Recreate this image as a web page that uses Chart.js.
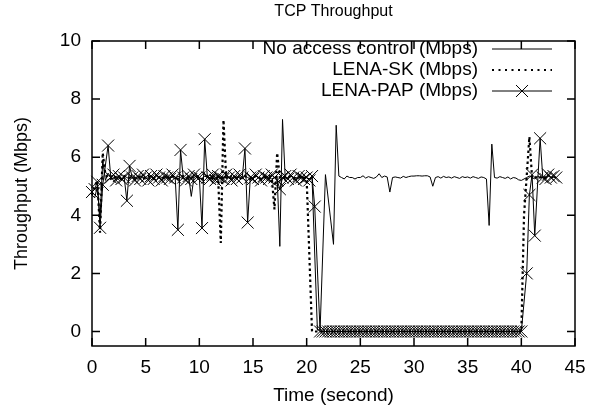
<!DOCTYPE html>
<html>
<head>
<meta charset="utf-8">
<title>TCP Throughput</title>
<script src="https://cdn.jsdelivr.net/npm/chart.js@4/dist/chart.umd.min.js"></script>
<style>
  html, body { margin: 0; padding: 0; background: #fff; }
</style>
</head>
<body>
<canvas id="tcpChart" width="602" height="412"></canvas>
<script>
// time axis (seconds), one sample every 0.25 s
const times = [
  0, 0.25, 0.5, 0.75, 1, 1.25, 1.5, 1.75, 2, 2.25, 2.5, 2.75, 3, 3.25, 3.5, 3.75, 4, 4.25, 4.5, 4.75,
  5, 5.25, 5.5, 5.75, 6, 6.25, 6.5, 6.75, 7, 7.25, 7.5, 7.75, 8, 8.25, 8.5, 8.75, 9, 9.25, 9.5, 9.75,
  10, 10.25, 10.5, 10.75, 11, 11.25, 11.5, 11.75, 12, 12.25, 12.5, 12.75, 13, 13.25, 13.5, 13.75, 14, 14.25, 14.5, 14.75,
  15, 15.25, 15.5, 15.75, 16, 16.25, 16.5, 16.75, 17, 17.25, 17.5, 17.75, 18, 18.25, 18.5, 18.75, 19, 19.25, 19.5, 19.75,
  20, 20.25, 20.5, 20.75, 21, 21.25, 21.5, 21.75, 22, 22.25, 22.5, 22.75, 23, 23.25, 23.5, 23.75, 24, 24.25, 24.5, 24.75,
  25, 25.25, 25.5, 25.75, 26, 26.25, 26.5, 26.75, 27, 27.25, 27.5, 27.75, 28, 28.25, 28.5, 28.75, 29, 29.25, 29.5, 29.75,
  30, 30.25, 30.5, 30.75, 31, 31.25, 31.5, 31.75, 32, 32.25, 32.5, 32.75, 33, 33.25, 33.5, 33.75, 34, 34.25, 34.5, 34.75,
  35, 35.25, 35.5, 35.75, 36, 36.25, 36.5, 36.75, 37, 37.25, 37.5, 37.75, 38, 38.25, 38.5, 38.75, 39, 39.25, 39.5, 39.75,
  40, 40.25, 40.5, 40.75, 41, 41.25, 41.5, 41.75, 42, 42.25, 42.5, 42.75, 43, 43.25
];

// No access control (Mbps)
const noAccess = [
  4.7, 4.6, 5.0, 3.9, 5.9, 5.2, 5.45, 5.3, 5.25, 5.35, 5.3, 5.2, 5.35, 5.3, 5.25, 5.4, 5.3, 5.25, 5.35, 5.3,
  5.25, 5.3, 5.35, 5.3, 5.2, 5.35, 5.3, 5.25, 5.4, 5.3, 5.3, 5.25, 5.35, 5.3, 5.25, 5.3, 5.35, 4.65, 5.3, 5.35,
  5.3, 5.25, 5.35, 5.3, 5.3, 5.25, 5.4, 5.3, 5.25, 5.3, 5.35, 5.3, 5.25, 5.35, 5.3, 5.3, 5.25, 5.35, 5.3, 5.25,
  5.3, 5.35, 5.3, 5.25, 5.3, 5.35, 5.3, 5.25, 5.3, 5.35, 2.93, 7.3, 5.3, 5.25, 5.35, 5.3, 5.3, 5.25, 5.35, 5.3,
  5.3, 5.25, 5.3, null, 0.05, 0.05, null, 5.4, null, null, 3.0, 7.1, 5.35, 5.3, 5.25, 5.35, 5.3, 5.3, 5.25, 5.3,
  5.3, 5.36, 5.28, 5.33, 5.3, 5.27, 5.32, 5.43, 5.3, 5.35, 5.32, 4.8, 5.3, 5.32, 5.3, 5.28, 5.34, 5.3, 5.33, 5.35,
  5.35, 5.36, 5.36, 5.35, 5.36, 5.36, 5.32, 5.0, 5.3, 5.33, 5.28, 5.34, 5.3, 5.32, 5.28, 5.33, 5.3, 5.27, 5.33, 5.3,
  5.32, 5.28, 5.33, 5.3, 5.27, 5.32, 5.3, 5.25, 3.65, 6.45, 5.3, 5.28, 5.33, 5.3, 5.27, 5.32, 5.25, 5.3, 5.28, 5.22,
  5.2, 5.25, 5.3, 5.35, 5.3, 5.25, 5.35, 5.3, 5.3, 5.25, 5.35, 5.3, 5.3, 5.3
];

// LENA-SK (Mbps)
const lenaSk = [
  4.7, 5.0, 5.2, 3.4, 6.15, 5.4, 5.3, 5.25, 5.35, 5.3, 5.3, 5.25, 5.35, 5.3, 5.3, 5.25, 5.3, 5.35, 5.3, 5.25,
  5.3, 5.35, 5.3, 5.25, 5.3, 5.3, 5.35, 5.25, 5.3, 5.3, 5.35, 5.3, 5.25, 5.3, 5.35, 5.3, 5.25, 5.3, 5.3, 5.35,
  5.3, 5.25, 5.3, 5.35, 5.3, 5.25, 5.3, 5.3, 3.05, 7.28, 5.3, 5.25, 5.35, 5.3, 5.3, 5.25, 5.3, 5.35, 5.3, 5.25,
  5.3, 5.35, 5.3, 5.25, 5.3, 5.3, 5.35, 5.3, 4.2, 6.15, 5.3, 5.25, 5.3, 5.35, 5.3, 5.25, 5.3, 5.3, 5.35, 5.3,
  5.25, null, 0, 0, 0, 0, 0, 0, 0, 0, 0, 0, 0, 0, 0, 0, 0, 0, 0, 0,
  0, 0, 0, 0, 0, 0, 0, 0, 0, 0, 0, 0, 0, 0, 0, 0, 0, 0, 0, 0,
  0, 0, 0, 0, 0, 0, 0, 0, 0, 0, 0, 0, 0, 0, 0, 0, 0, 0, 0, 0,
  0, 0, 0, 0, 0, 0, 0, 0, 0, 0, 0, 0, 0, 0, 0, 0, 0, 0, 0, 0,
  0, 4.0, null, 6.7, 5.3, 5.35, 5.25, 5.3, 5.35, 5.3, 5.3, null, null, null
];

// LENA-PAP (Mbps)
const lenaPap = [
  4.8, 4.9, 5.15, 3.57, 5.05, null, 6.4, 5.3, 5.4, 5.2, 5.35, 5.25, 5.3, 4.5, 5.7, 5.3, 5.2, 5.35, 5.25, 5.4,
  5.3, 5.2, 5.35, 5.25, 5.4, 5.3, 5.2, 5.35, 5.3, 5.25, 5.4, 5.3, 3.5, 6.25, 5.3, 5.2, 5.35, 5.25, 5.4, 5.3,
  5.3, 3.56, 6.62, 5.3, 5.25, 5.4, 5.2, 5.35, 5.3, 5.25, 5.4, 5.3, 5.2, 5.35, 5.25, 5.4, 5.3, 6.3, 3.75, 5.3,
  5.25, 5.4, 5.3, 5.2, 5.35, 5.3, 5.25, 5.4, 5.3, 5.2, 4.9, 5.3, 5.35, 5.25, 5.4, 5.3, 5.2, 5.35, 5.3, 5.25,
  5.3, 5.2, 5.35, 4.3, null, 0, 0, 0, 0, 0, 0, 0, 0, 0, 0, 0, 0, 0, 0, 0,
  0, 0, 0, 0, 0, 0, 0, 0, 0, 0, 0, 0, 0, 0, 0, 0, 0, 0, 0, 0,
  0, 0, 0, 0, 0, 0, 0, 0, 0, 0, 0, 0, 0, 0, 0, 0, 0, 0, 0, 0,
  0, 0, 0, 0, 0, 0, 0, 0, 0, 0, 0, 0, 0, 0, 0, 0, 0, 0, 0, 0,
  0, null, 2.0, 4.7, 5.4, 3.3, null, 6.65, 5.3, 5.25, 5.4, 5.3, 5.35, 5.3
];

const chartTitle = 'TCP Throughput';
const seriesLabels = ['No access control (Mbps)', 'LENA-SK (Mbps)', 'LENA-PAP (Mbps)'];
const xTicks = [0, 5, 10, 15, 20, 25, 30, 35, 40, 45];
const yTicks = [0, 2, 4, 6, 8, 10];

const FONT = '"Liberation Sans", Arial, Helvetica, sans-serif';

const toPoints = (vals) => times.map((t, i) => ({ x: t, y: vals[i] }));

// gnuplot style frame: box round the plot, ticks pointing inwards on all four sides
const framePlugin = {
  id: 'frame',
  afterDraw(chart) {
    const { ctx, chartArea: a } = chart;
    const xs = chart.scales.x;
    const ys = chart.scales.y;
    const len = 8;
    ctx.save();
    ctx.strokeStyle = '#000';
    ctx.lineWidth = 1.5;
    ctx.setLineDash([]);
    ctx.strokeRect(a.left, a.top, a.right - a.left, a.bottom - a.top);
    ctx.beginPath();
    xTicks.forEach((v) => {
      const px = xs.getPixelForValue(v);
      ctx.moveTo(px, a.bottom); ctx.lineTo(px, a.bottom - len);
      ctx.moveTo(px, a.top); ctx.lineTo(px, a.top + len);
    });
    yTicks.forEach((v) => {
      const py = ys.getPixelForValue(v);
      ctx.moveTo(a.left, py); ctx.lineTo(a.left + len, py);
      ctx.moveTo(a.right, py); ctx.lineTo(a.right - len, py);
    });
    ctx.stroke();

    // title, centred over the plot like gnuplot does
    ctx.fillStyle = '#000';
    ctx.font = '16px ' + FONT;
    ctx.textAlign = 'center';
    ctx.textBaseline = 'middle';
    ctx.fillText(chartTitle, (a.left + a.right) / 2, 12);
    ctx.restore();
  },
};

// key in the top right corner, text first and sample after it
const keyPlugin = {
  id: 'key',
  afterDraw(chart) {
    const { ctx, chartArea: a } = chart;
    const textRight = a.right - 97;
    const x0 = a.right - 83;
    const x1 = a.right - 23;
    ctx.save();
    ctx.font = '19px ' + FONT;
    ctx.textAlign = 'right';
    ctx.textBaseline = 'middle';
    chart.data.datasets.forEach((ds, i) => {
      const y = a.top + 8 + i * 21;
      ctx.fillStyle = '#000';
      ctx.fillText(ds.label, textRight, y);
      ctx.strokeStyle = '#000';
      ctx.lineWidth = ds.borderDash ? 2 : ds.borderWidth;
      ctx.setLineDash(ds.borderDash ? [2, 4.5] : []);
      ctx.beginPath();
      ctx.moveTo(x0, y); ctx.lineTo(x1, y);
      ctx.stroke();
      if (ds.pointRadius > 0) {
        const h = ds.pointRadius * Math.SQRT1_2;
        const cx = (x0 + x1) / 2;
        ctx.setLineDash([]);
        ctx.lineWidth = ds.pointBorderWidth;
        ctx.beginPath();
        ctx.moveTo(cx - h, y - h); ctx.lineTo(cx + h, y + h);
        ctx.moveTo(cx - h, y + h); ctx.lineTo(cx + h, y - h);
        ctx.stroke();
      }
    });
    ctx.restore();
  },
};

new Chart(document.getElementById('tcpChart'), {
  type: 'line',
  data: {
    datasets: [
      {
        label: seriesLabels[0],
        data: toPoints(noAccess),
        borderColor: '#000',
        borderWidth: 1,
        pointRadius: 0,
        spanGaps: true,
        clip: false,
      },
      {
        label: seriesLabels[1],
        data: toPoints(lenaSk),
        borderColor: '#000',
        borderWidth: 2.2,
        borderDash: [2.5, 3],
        pointRadius: 0,
        spanGaps: true,
        clip: false,
      },
      {
        label: seriesLabels[2],
        data: toPoints(lenaPap),
        borderColor: '#000',
        borderWidth: 1,
        pointStyle: 'crossRot',
        pointRadius: 8.5,
        pointBorderWidth: 1,
        pointBorderColor: '#000',
        spanGaps: true,
        clip: false,
      },
    ],
  },
  options: {
    responsive: false,
    animation: false,
    events: [],
    layout: { padding: { left: 0, right: 27, top: 41, bottom: 0 } },
    elements: { line: { tension: 0 } },
    plugins: {
      legend: { display: false },
      tooltip: { enabled: false },
      title: { display: false },
    },
    scales: {
      x: {
        type: 'linear',
        min: 0,
        max: 45,
        grid: { display: false, drawTicks: false },
        border: { display: false },
        afterBuildTicks: (s) => { s.ticks = xTicks.map((v) => ({ value: v })); },
        afterFit: (s) => { s.height = 66; },
        ticks: { color: '#000', padding: 10, maxRotation: 0, font: { family: FONT, size: 19 } },
        title: {
          display: true,
          text: 'Time (second)',
          color: '#000',
          font: { family: FONT, size: 19 },
          padding: { top: 0, bottom: 5 },
        },
      },
      y: {
        type: 'linear',
        min: -0.5,
        max: 10,
        grid: { display: false, drawTicks: false },
        border: { display: false },
        afterBuildTicks: (s) => { s.ticks = yTicks.map((v) => ({ value: v })); },
        afterFit: (s) => { s.width = 92; },
        ticks: { color: '#000', padding: 11, font: { family: FONT, size: 19 } },
        title: {
          display: true,
          text: 'Throughput (Mbps)',
          color: '#000',
          font: { family: FONT, size: 18 },
          padding: { top: 11, bottom: 0 },
        },
      },
    },
  },
  plugins: [framePlugin, keyPlugin],
});
</script>
</body>
</html>
